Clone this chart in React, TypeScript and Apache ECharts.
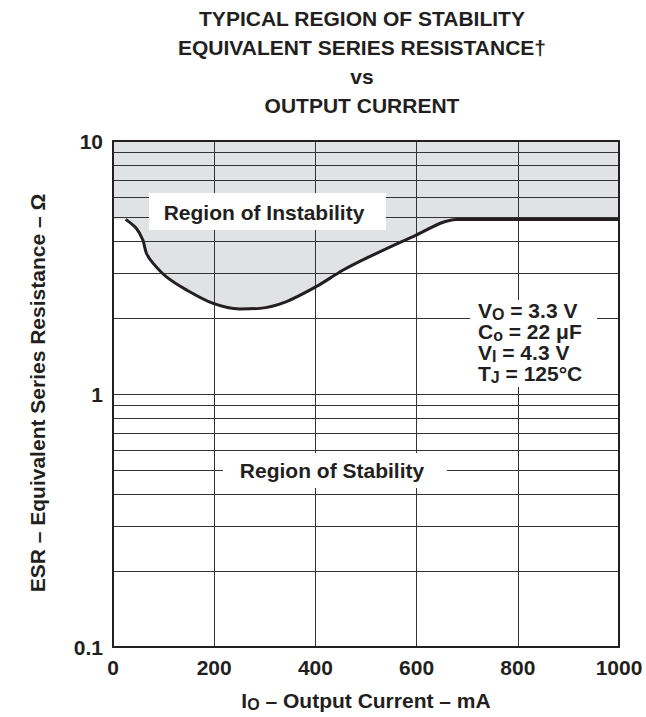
import React, { useEffect, useRef } from "react";
import * as echarts from "echarts";

// ---- data ----
const curveCurrent = [25, 46, 59, 66, 79, 105, 145, 198, 250, 290, 343, 402, 455, 507, 593, 679, 1000];
const curveESR = [4.9, 4.52, 4.06, 3.6, 3.29, 2.91, 2.58, 2.28, 2.17, 2.18, 2.32, 2.66, 3.09, 3.49, 4.19, 4.9, 4.9];
const boundaryStart = [0, 4.9]; // shaded region starts flat at the left edge
const xTickValues = [0, 200, 400, 600, 800, 1000];
const yTickLabels = ["0.1", "1", "10"];
const xGridValues = [200, 400, 600, 800];
const yGridValues = [0.2, 0.3, 0.4, 0.5, 0.6, 0.7, 0.8, 0.9, 1, 2, 3, 4, 5, 6, 7, 8, 9];
const titleLines = [
  "TYPICAL REGION OF STABILITY",
  "EQUIVALENT SERIES RESISTANCE\u2020",
  "vs",
  "OUTPUT CURRENT",
];
const conditions = [
  ["V", "O", " = 3.3 V"],
  ["C", "o", " = 22 \u03bcF"],
  ["V", "I", " = 4.3 V"],
  ["T", "J", " = 125\u00b0C"],
];

const INK = "#231f20";
const FONT = "'Liberation Sans', Arial, Helvetica, sans-serif";
const SHADE = "#e1e2e4";
const FS = 21;

export default function App() {
  const ref = useRef<HTMLDivElement>(null);

  useEffect(() => {
    if (!ref.current) return;
    const chart = echarts.init(ref.current, null, { renderer: "svg" });

    const curveData = curveCurrent.map((c, i) => [c, curveESR[i]]);
    const fillData = [boundaryStart, ...curveData];

    const richBase = {
      m: { fontSize: FS, fontWeight: "bold", fontFamily: FONT, fill: INK, lineHeight: 21 },
      s: { fontSize: 16, fontWeight: "bold", fontFamily: FONT, fill: INK, lineHeight: 21, padding: [8, 0, 0, 0] },
    };

    const condText = conditions.map((c) => `{m|${c[0]}}{s|${c[1]}}{m|${c[2]}}`).join("\n");

    const axisLineStyle = { color: INK, width: 2 };

    const textStyle = (text: string, align = "center", vAlign = "middle") => ({
      text,
      fontSize: FS,
      fontWeight: "bold",
      fontFamily: FONT,
      fill: INK,
      align,
      verticalAlign: vAlign,
      textAlign: align,
      textVerticalAlign: vAlign,
    });

    const option: any = {
      animation: false,
      backgroundColor: "#ffffff",
      grid: { left: 113, top: 141, width: 506, height: 506, show: false },
      xAxis: [
        {
          type: "value",
          min: 0,
          max: 1000,
          interval: 200,
          position: "bottom",
          z: 10,
          axisLine: { show: true, onZero: false, lineStyle: axisLineStyle },
          axisTick: { show: false },
          splitLine: { show: false },
          axisLabel: {
            fontSize: FS,
            fontWeight: "bold",
            fontFamily: FONT,
            color: INK,
            margin: 10,
            formatter: (v: number) => (xTickValues.includes(v) ? String(v) : ""),
          },
        },
        {
          type: "value",
          min: 0,
          max: 1000,
          interval: 200,
          position: "top",
          z: 10,
          axisLine: { show: true, onZero: false, lineStyle: axisLineStyle },
          axisTick: { show: false },
          splitLine: { show: false },
          axisLabel: { show: false },
        },
      ],
      yAxis: [
        {
          type: "log",
          logBase: 10,
          min: 0.1,
          max: 10,
          position: "left",
          z: 10,
          axisLine: { show: true, onZero: false, lineStyle: axisLineStyle },
          axisTick: { show: false },
          splitLine: { show: false },
          minorTick: { show: false },
          axisLabel: {
            fontSize: FS,
            fontWeight: "bold",
            fontFamily: FONT,
            color: INK,
            margin: 10,
            formatter: (v: number) => {
              const idx = Math.round(Math.log10(v)) + 1;
              return yTickLabels[idx] ?? "";
            },
          },
        },
        {
          type: "log",
          logBase: 10,
          min: 0.1,
          max: 10,
          position: "right",
          z: 10,
          axisLine: { show: true, onZero: false, lineStyle: axisLineStyle },
          axisTick: { show: false },
          splitLine: { show: false },
          axisLabel: { show: false },
        },
      ],
      series: [
        {
          name: "instability",
          type: "line",
          xAxisIndex: 0,
          yAxisIndex: 0,
          data: fillData,
          symbol: "none",
          smooth: 0.3,
          z: 2,
          silent: true,
          lineStyle: { width: 0, opacity: 0 },
          areaStyle: { color: SHADE, opacity: 1, origin: "end" },
        },
        {
          name: "grid",
          type: "line",
          xAxisIndex: 0,
          yAxisIndex: 0,
          data: [],
          z: 3,
          silent: true,
          markLine: {
            silent: true,
            animation: false,
            symbol: ["none", "none"],
            label: { show: false },
            emphasis: { disabled: true },
            lineStyle: { color: "#333333", width: 1, type: "solid" },
            data: [
              ...yGridValues.map((v) => ({ yAxis: v })),
              ...xGridValues.map((v) => ({ xAxis: v })),
            ],
          },
        },
        {
          name: "boundary",
          type: "line",
          xAxisIndex: 0,
          yAxisIndex: 0,
          data: curveData,
          symbol: "none",
          smooth: 0.3,
          z: 5,
          silent: true,
          lineStyle: { color: INK, width: 3 },
        },
      ],
      graphic: [
        ...titleLines.map((t, i) => ({
          type: "text",
          x: 362,
          y: 18 + i * 29.3,
          z: 100,
          style: textStyle(t),
        })),
        {
          type: "rect",
          z: 100,
          shape: { x: 149, y: 193, width: 237, height: 37 },
          style: { fill: "#ffffff" },
        },
        {
          type: "text",
          x: 264,
          y: 212,
          z: 101,
          style: textStyle("Region of Instability"),
        },
        {
          type: "rect",
          z: 100,
          shape: { x: 223, y: 453, width: 224, height: 35 },
          style: { fill: "#ffffff" },
        },
        {
          type: "text",
          x: 332,
          y: 470,
          z: 101,
          style: textStyle("Region of Stability"),
        },
        {
          type: "rect",
          z: 100,
          shape: { x: 470, y: 300, width: 127, height: 87 },
          style: { fill: "#ffffff" },
        },
        {
          type: "text",
          x: 478,
          y: 300,
          z: 101,
          style: { ...textStyle(condText, "left", "top"), rich: richBase },
        },
        {
          type: "text",
          x: 37,
          y: 393,
          rotation: Math.PI / 2,
          z: 101,
          style: textStyle("ESR \u2013 Equivalent Series Resistance \u2013 \u03a9"),
        },
        {
          type: "text",
          x: 366,
          y: 700,
          z: 101,
          style: { ...textStyle("{m|I}{s|O}{m| \u2013 Output Current \u2013 mA}"), rich: richBase },
        },
      ],
    };

    chart.setOption(option);
    return () => {
      chart.dispose();
    };
  }, []);

  return (
    <div
      ref={ref}
      style={{ position: "fixed", left: 0, top: 0, width: 646, height: 717, background: "#ffffff" }}
    />
  );
}
